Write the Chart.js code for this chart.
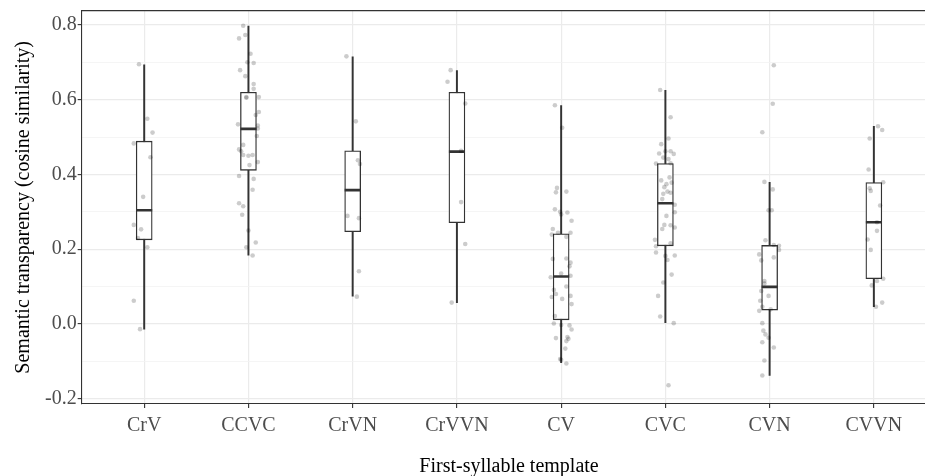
<!DOCTYPE html>
<html>
<head>
<meta charset="utf-8">
<script src="https://cdn.jsdelivr.net/npm/chart.js@4"></script>
<style>
  html, body { margin: 0; padding: 0; background: #fff; overflow: hidden; }
  #wrap { width: 947px; height: 476px; position: relative; }
</style>
</head>
<body>
<div id="wrap"><canvas id="chart"></canvas></div>
<script>
// Categorías (plantilla de primera sílaba)
const categories = ['CrV', 'CCVC', 'CrVN', 'CrVVN', 'CV', 'CVC', 'CVN', 'CVVN'];

// Estadísticos de cada caja
const whiskerLow = [-0.014, 0.184, 0.074, 0.057, -0.104, 0.003, -0.138, 0.046];
const q1Values = [0.225, 0.411, 0.247, 0.271, 0.011, 0.209, 0.037, 0.121];
const medianValues = [0.304, 0.522, 0.358, 0.461, 0.127, 0.323, 0.099, 0.272];
const q3Values = [0.489, 0.620, 0.463, 0.620, 0.241, 0.429, 0.210, 0.378];
const whiskerHigh = [0.693, 0.797, 0.715, 0.678, 0.584, 0.625, 0.379, 0.529];

// Puntos individuales (valor) y su desplazamiento horizontal (jitter, en unidades de categoría)
const pointsCrV = [0.695, 0.549, 0.512, 0.483, 0.446, 0.340, 0.265, 0.253, 0.230, 0.205, 0.062, -0.014];
const jitterCrV = [-0.05, 0.03, 0.08, -0.10, 0.06, -0.01, -0.10, -0.03, -0.06, 0.03, -0.10, -0.04];

const pointsCCVC = [0.798, 0.773, 0.764, 0.723, 0.700, 0.698, 0.679, 0.663, 0.642, 0.629, 0.607, 0.605, 0.607,
  0.559, 0.567, 0.534, 0.531, 0.523, 0.503, 0.479, 0.467, 0.462, 0.452, 0.450, 0.452, 0.425, 0.433, 0.396,
  0.388, 0.359, 0.323, 0.315, 0.292, 0.250, 0.218, 0.205, 0.183];
const jitterCCVC = [-0.05, -0.03, -0.09, 0.02, -0.01, 0.05, -0.08, -0.03, 0.05, 0.05, -0.02, -0.02, 0.10,
  0.07, 0.10, -0.10, 0.09, 0.09, 0.08, -0.05, -0.09, -0.07, -0.05, 0.00, 0.04, 0.01, 0.09, -0.09,
  0.05, 0.04, -0.09, -0.05, -0.06, 0.00, 0.07, -0.02, 0.04];

const pointsCrVN = [0.716, 0.542, 0.438, 0.428, 0.289, 0.283, 0.141, 0.073];
const jitterCrVN = [-0.06, 0.03, 0.05, 0.07, -0.05, 0.06, 0.06, 0.04];

const pointsCrVVN = [0.679, 0.648, 0.590, 0.463, 0.326, 0.214, 0.057];
const jitterCrVVN = [-0.06, -0.09, 0.08, 0.04, 0.04, 0.08, -0.05];

const pointsCV = [0.585, 0.525, 0.364, 0.352, 0.354, 0.307, 0.300, 0.293, 0.298, 0.276, 0.254, 0.239, 0.244,
  0.233, 0.244, 0.174, 0.175, 0.164, 0.154, 0.135, 0.125, 0.129, 0.091, 0.080, 0.100, 0.072, 0.067, 0.075,
  0.053, 0.021, 0.001, -0.003, -0.004, -0.015, -0.038, -0.035, -0.040, -0.046, -0.066, -0.094, -0.096, -0.106];
const jitterCV = [-0.06, 0.01, -0.04, -0.05, 0.05, -0.06, -0.01, 0.00, 0.06, 0.10, -0.08, -0.09, -0.03,
  0.05, 0.09, -0.08, 0.05, 0.09, 0.08, 0.00, -0.10, 0.09, -0.07, -0.05, 0.05, -0.09, 0.01, 0.09,
  0.10, -0.06, -0.07, 0.00, 0.08, 0.10, -0.05, 0.06, 0.07, 0.05, 0.04, -0.01, 0.00, 0.05];

const pointsCVC = [0.626, 0.553, 0.496, 0.481, 0.456, 0.462, 0.462, 0.455, 0.445, 0.441, 0.429, 0.430, 0.392,
  0.384, 0.378, 0.374, 0.366, 0.354, 0.351, 0.348, 0.334, 0.319, 0.299, 0.289, 0.265, 0.264, 0.258, 0.254,
  0.225, 0.216, 0.208, 0.191, 0.182, 0.171, 0.183, 0.132, 0.111, 0.075, 0.020, 0.002, -0.164];
const jitterCVC = [-0.05, 0.05, 0.03, -0.04, -0.06, 0.00, 0.05, 0.08, -0.02, 0.03, -0.09, 0.05, 0.04,
  -0.04, 0.06, 0.01, -0.01, 0.02, 0.05, -0.02, -0.03, 0.09, 0.09, 0.01, -0.01, 0.05, 0.09, -0.03,
  -0.10, 0.05, -0.09, -0.09, 0.00, 0.02, 0.09, 0.06, -0.02, -0.07, -0.05, 0.08, 0.03];

const pointsCVN = [0.692, 0.589, 0.513, 0.380, 0.360, 0.304, 0.304, 0.224, 0.186, 0.170, 0.178, 0.209, 0.198,
  0.211, 0.115, 0.108, 0.088, 0.075, 0.062, 0.046, 0.035, 0.039, 0.002, -0.018, -0.028, -0.037, -0.049,
  -0.063, -0.098, -0.138];
const jitterCVN = [0.04, 0.03, -0.07, -0.05, 0.03, -0.01, 0.02, -0.04, -0.10, -0.08, 0.04, 0.09, 0.09,
  0.04, -0.05, -0.05, -0.08, -0.01, -0.09, -0.07, -0.10, 0.01, -0.07, -0.06, -0.04, -0.01, -0.07,
  0.04, -0.05, -0.07];

const pointsCVVN = [0.529, 0.519, 0.496, 0.413, 0.363, 0.356, 0.379, 0.317, 0.272, 0.249, 0.226, 0.198,
  0.121, 0.115, 0.103, 0.046, 0.057];
const jitterCVVN = [0.04, 0.08, -0.04, -0.05, -0.04, -0.03, 0.09, 0.06, 0.03, 0.03, -0.06, -0.03,
  0.09, 0.03, -0.02, 0.02, 0.08];

// Ticks del eje Y (cada 0.1; etiquetas sólo en los pares)
const yTicks = [-0.2, -0.1, 0.0, 0.1, 0.2, 0.3, 0.4, 0.5, 0.6, 0.7, 0.8];
const yLabeled = [-0.2, 0.0, 0.2, 0.4, 0.6, 0.8];

const allPoints = [pointsCrV, pointsCCVC, pointsCrVN, pointsCrVVN, pointsCV, pointsCVC, pointsCVN, pointsCVVN];
const allJitter = [jitterCrV, jitterCCVC, jitterCrVN, jitterCrVVN, jitterCV, jitterCVC, jitterCVN, jitterCVVN];

const FONT = "'Liberation Serif', 'DejaVu Serif', serif";
const isLabeled = v => yLabeled.some(l => Math.abs(l - v) < 1e-6);

// Datos para Chart.js
const scatterData = [];
allPoints.forEach((vals, i) => {
  vals.forEach((v, j) => scatterData.push({ x: i + 1 + allJitter[i][j], y: v }));
});
const boxData = categories.map((c, i) => ({ x: i + 1, y: [q1Values[i], q3Values[i]] }));
const whiskerData = categories.map((c, i) => ({ x: i + 1, y: [whiskerLow[i], whiskerHigh[i]] }));
const medianData = categories.map((c, i) => ({ x: i + 1, y: medianValues[i] }));

// Borde superior del panel
const topBorder = {
  id: 'topBorder',
  afterDraw(chart) {
    const { ctx, chartArea } = chart;
    ctx.save();
    ctx.strokeStyle = '#333333';
    ctx.lineWidth = 1.1;
    ctx.beginPath();
    ctx.moveTo(chartArea.left, chartArea.top);
    ctx.lineTo(chartArea.right, chartArea.top);
    ctx.stroke();
    ctx.restore();
  }
};

new Chart(document.getElementById('chart'), {
  type: 'bar',
  data: {
    datasets: [
      {
        type: 'bar',
        data: whiskerData,
        backgroundColor: '#333333',
        borderWidth: 0,
        barThickness: 1.3,
        grouped: false,
        order: 4
      },
      {
        type: 'bar',
        data: boxData,
        backgroundColor: '#ffffff',
        borderColor: '#333333',
        borderWidth: 1.3,
        borderSkipped: false,
        barThickness: 16,
        grouped: false,
        order: 3
      },
      {
        type: 'scatter',
        data: medianData,
        pointStyle: 'line',
        radius: 8,
        borderColor: '#333333',
        borderWidth: 2.6,
        order: 2
      },
      {
        type: 'scatter',
        data: scatterData,
        pointStyle: 'circle',
        radius: 2.3,
        backgroundColor: 'rgba(0,0,0,0.2)',
        borderWidth: 0,
        order: 1
      }
    ]
  },
  options: {
    responsive: true,
    maintainAspectRatio: false,
    animation: false,
    layout: { padding: { left: 12, right: 0, top: -2, bottom: -3 } },
    plugins: { legend: { display: false }, tooltip: { enabled: false } },
    scales: {
      x: {
        type: 'linear',
        min: 0.4,
        max: 8.6,
        offset: false,
        afterBuildTicks: axis => { axis.ticks = categories.map((c, i) => ({ value: i + 1 })); },
        ticks: {
          callback: v => categories[Math.round(v) - 1] || '',
          color: '#4d4d4d',
          font: { family: FONT, size: 20 },
          padding: 6,
          maxRotation: 0,
          autoSkip: false
        },
        grid: { offset: false, color: '#ebebeb', lineWidth: 1.2, tickLength: 4, tickColor: '#333333', tickWidth: 1.1 },
        border: { display: true, color: '#333333', width: 1.1 },
        title: {
          display: true,
          text: 'First-syllable template',
          color: '#000000',
          font: { family: FONT, size: 20 },
          padding: { top: 11, bottom: 0 }
        }
      },
      y: {
        type: 'linear',
        min: -0.2143,
        max: 0.8384,
        afterBuildTicks: axis => { axis.ticks = yTicks.map(v => ({ value: v })); },
        ticks: {
          callback: v => isLabeled(v) ? v.toFixed(1) : '',
          color: '#4d4d4d',
          font: { family: FONT, size: 20, lineHeight: 0.5 },
          padding: 1,
          autoSkip: false
        },
        grid: {
          color: ctx => isLabeled(ctx.tick.value) ? '#ebebeb' : '#f2f2f2',
          lineWidth: ctx => isLabeled(ctx.tick.value) ? 1.2 : 0.8,
          tickLength: 4,
          tickColor: ctx => isLabeled(ctx.tick.value) ? '#333333' : 'rgba(0,0,0,0)',
          tickWidth: 1.1
        },
        border: { display: true, color: '#333333', width: 1.1 },
        title: {
          display: true,
          text: 'Semantic transparency (cosine similarity)',
          color: '#000000',
          font: { family: FONT, size: 20 },
          padding: { top: 0, bottom: 8 }
        }
      }
    }
  },
  plugins: [topBorder]
});
</script>
</body>
</html>
